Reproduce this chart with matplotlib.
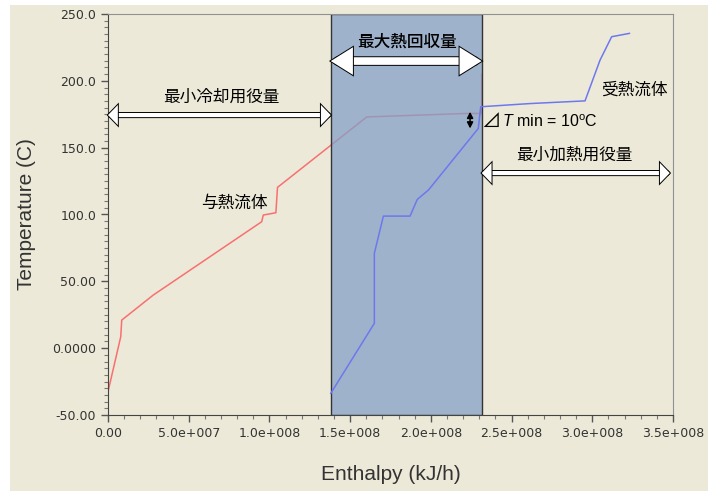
import numpy as np
import matplotlib
matplotlib.use("Agg")
import matplotlib.pyplot as plt
import matplotlib.patheffects as pe
from matplotlib.patches import Rectangle

# 与熱流体 (hot composite curve)
hot_h = [0.0, 0.079e8, 0.085e8, 0.28e8, 0.952e8, 0.962e8, 1.04e8, 1.05e8,
         1.603e8, 2.22e8, 2.315e8, 2.315e8]
hot_t = [-32.6, 8.6, 21.0, 39.7, 94.6, 99.6, 101.3, 120.3,
         173.0, 175.6, 175.6, 205.0]

# 受熱流体 (cold composite curve)
cold_h = [1.38e8, 1.65e8, 1.65e8, 1.706e8, 1.871e8, 1.916e8, 1.985e8, 2.294e8,
          2.309e8, 2.615e8, 2.955e8, 3.048e8, 3.12e8, 3.23e8]
cold_t = [-33.8, 18.6, 71.0, 98.8, 98.8, 111.3, 118.3, 164.4,
          180.6, 183.0, 185.0, 215.5, 233.0, 235.5]

x_ticks = [0, 0.5e8, 1.0e8, 1.5e8, 2.0e8, 2.5e8, 3.0e8, 3.5e8]
x_labels = ["0.00", "5.0e+007", "1.0e+008", "1.5e+008", "2.0e+008",
            "2.5e+008", "3.0e+008", "3.5e+008"]
y_ticks = [-50, 0, 50, 100, 150, 200, 250]
y_labels = ["-50.00", "0.0000", "50.00", "100.0", "150.0", "200.0", "250.0"]

heat_span_end = 3.48e8
dt_min = 10

cjk = ["Noto Sans CJK JP", "DejaVu Sans"]
bg = "#ECE9D8"

plt.rcParams["mathtext.fontset"] = "custom"
plt.rcParams["mathtext.it"] = "Liberation Sans:italic"
plt.rcParams["mathtext.rm"] = "Liberation Sans"

fig = plt.figure(figsize=(7.08, 4.91), dpi=100)
fig.patch.set_facecolor("white")
fig.patches.append(Rectangle((10 / 708, 0), 1, 1 - 5 / 491, transform=fig.transFigure,
                             facecolor=bg, edgecolor="none", zorder=-10))
ax = fig.add_axes([108 / 708, 1 - 415 / 491, 565 / 708, 401 / 491])
ax.set_facecolor(bg)

# 熱回収領域
rec_lo, rec_hi = cold_h[0], hot_h[-1]
ax.plot(hot_h, hot_t, color="#F87070", lw=1.1, zorder=1)
ax.add_patch(Rectangle((rec_lo, -50), rec_hi - rec_lo, 300,
                       facecolor=(132 / 255, 160 / 255, 199 / 255, 0.75),
                       edgecolor="#333333", lw=1.0, zorder=2))
ax.plot(cold_h, cold_t, color="#6E78EE", lw=1.1, zorder=3)

ax.set_xlim(0, 3.5e8)
ax.set_ylim(-50, 250)
ax.set_xticks(x_ticks)
ax.set_xticklabels(x_labels)
ax.set_yticks(y_ticks)
ax.set_yticklabels(y_labels)
ax.set_xticks(np.arange(0, 3.5e8 + 1, 1e7), minor=True)
ax.set_yticks(np.arange(-50, 251, 5), minor=True)
ax.tick_params(which="major", direction="out", length=5, width=1, color="#555555",
               labelsize=9, labelcolor="#333333")
ax.tick_params(which="minor", direction="out", length=3, width=0.8, color="#777777")
for s in ("left", "bottom"):
    ax.spines[s].set_color("#444444")
for s in ("top", "right"):
    ax.spines[s].set_color("#909090")

ax.set_xlabel("Enthalpy (kJ/h)", fontsize=15, family="Liberation Sans", color="#333333",
              labelpad=18)
ax.set_ylabel("Temperature (C)", fontsize=15, family="Liberation Sans", color="#333333",
              labelpad=12)


def block_arrow(x0, x1, y, lw, hl, hw):
    ax.annotate("", xy=(x1, y), xytext=(x0, y),
                arrowprops=dict(arrowstyle=f"<|-|>,head_length={hl},head_width={hw}",
                                lw=lw, color="white", shrinkA=0, shrinkB=0,
                                mutation_scale=10, joinstyle="miter",
                                path_effects=[pe.Stroke(linewidth=lw + 1.4, foreground="black"),
                                              pe.Normal()]),
                zorder=5)


block_arrow(0, rec_lo, 174.4, 3.0, 0.35, 0.36)
block_arrow(rec_lo, rec_hi, 214.8, 5.5, 0.8, 0.5)
block_arrow(rec_hi, heat_span_end, 131, 3.0, 0.35, 0.36)

ax.text(0.70e8, 188, "最小冷却用役量", fontsize=12, family=cjk, ha="center", va="center", zorder=6)
ax.text(1.855e8, 229.5, "最大熱回収量", fontsize=12, family=cjk, ha="center", va="center",
        weight="medium", zorder=6)
ax.text(2.887e8, 144.5, "最小加熱用役量", fontsize=12, family=cjk, ha="center", va="center", zorder=6)
ax.text(0.78e8, 108.6, "与熱流体", fontsize=12, family=cjk, ha="center", va="center", zorder=6)
ax.text(3.26e8, 193, "受熱流体", fontsize=12, family=cjk, ha="center", va="center", zorder=6)

# ΔTmin の表示
pinch_h = 2.243e8
pinch_hot = hot_t[9]
ax.annotate("", xy=(pinch_h, pinch_hot + 1.2), xytext=(pinch_h, pinch_hot - dt_min - 1.2),
            arrowprops=dict(arrowstyle="<|-|>,head_length=0.35,head_width=0.18", lw=1.1,
                            color="black", shrinkA=0, shrinkB=0, mutation_scale=10),
            zorder=6)
ax.text(rec_hi, 169.4, "⊿", fontsize=14, family=cjk, ha="left", va="center", zorder=6)
ax.annotate(f"$T$ min = {dt_min}$^{{\\rm o}}$C", xy=(rec_hi, 169.4), xytext=(14.5, 0),
            textcoords="offset points", fontsize=11.5, family="Liberation Sans",
            ha="left", va="center", zorder=6)

fig.savefig("out.png", dpi=100, facecolor=fig.get_facecolor())
